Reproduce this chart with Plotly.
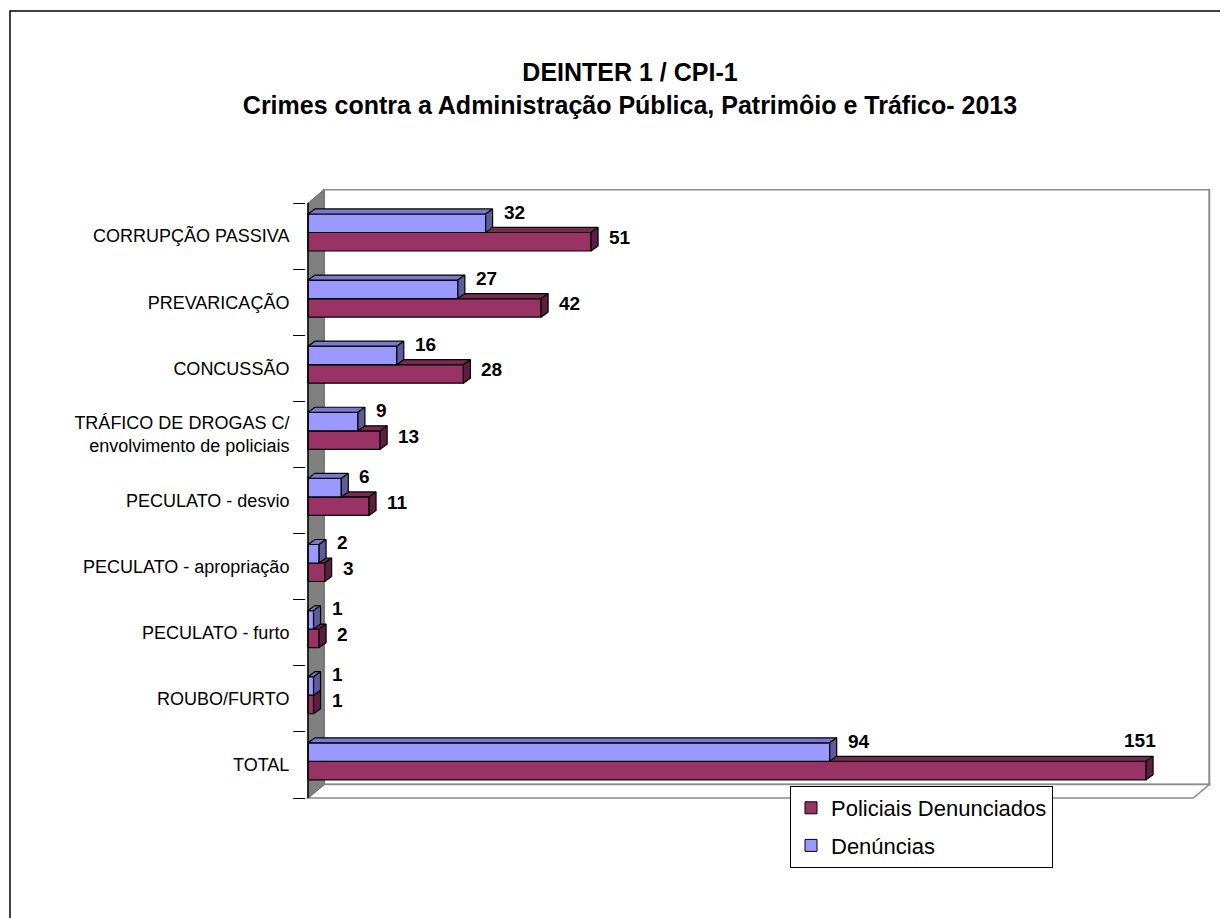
import plotly.graph_objects as go

# ---------------- data ----------------
categories = [
    "CORRUPÇÃO PASSIVA",
    "PREVARICAÇÃO",
    "CONCUSSÃO",
    "TRÁFICO DE DROGAS C/<br>envolvimento de policiais",
    "PECULATO - desvio",
    "PECULATO - apropriação",
    "PECULATO - furto",
    "ROUBO/FURTO",
    "TOTAL",
]
denuncias = [32, 27, 16, 9, 6, 2, 1, 1, 94]
policiais = [51, 42, 28, 13, 11, 3, 2, 1, 151]

series_names = ["Policiais Denunciados", "Denúncias"]

# ---------------- style / geometry ----------------
FONT = "Liberation Sans, Arial, sans-serif"
RED_FRONT, RED_TOP, RED_SIDE = "#993366", "#7a2952", "#5c1f3d"
BLUE_FRONT, BLUE_TOP, BLUE_SIDE = "#9999ff", "#7a7acc", "#5c5c99"

n = len(categories)
pos = [n - 1 - i for i in range(n)]          # top category -> highest y

FRAME_MAX = 159.5        # value-axis extent of the 3D box
BAR_W = 0.28             # bar thickness (category units)
BLUE_OFF, RED_OFF = 0.195, -0.085
DX, DY = 1.26, 0.076     # bar depth
WX, WY = 2.89, 0.204     # wall depth

XMIN, XMAX = -0.36, 162.88
YMIN, YMAX = -0.515, 8.713

W, H = 1220, 910         # page has an 8px body margin
ML, MR, MT, MB = 298, 16, 181, 119
PW, PH = W - ML - MR, H - MT - MB


def faces(values, offset):
    fx, fy, tx, ty, sx, sy = [], [], [], [], [], []
    for p, v in zip(pos, values):
        yc = p + offset
        y0, y1 = yc - BAR_W / 2, yc + BAR_W / 2
        fx += [0, v, v, 0, 0, None]
        fy += [y0, y0, y1, y1, y0, None]
        tx += [0, v, v + DX, DX, 0, None]
        ty += [y1, y1, y1 + DY, y1 + DY, y1, None]
        sx += [v, v + DX, v + DX, v, v, None]
        sy += [y0, y0 + DY, y1 + DY, y1, y0, None]
    return (fx, fy), (tx, ty), (sx, sy)


def poly(xy, color):
    return go.Scatter(
        x=xy[0], y=xy[1], mode="lines", fill="toself", fillcolor=color,
        line=dict(color="black", width=1.2), hoverinfo="skip", showlegend=False,
    )


fig = go.Figure()

# legend entries (bar icons)
fig.add_trace(go.Bar(x=[None], y=[None], orientation="h", name=series_names[0],
                     marker=dict(color=RED_FRONT, line=dict(color="black", width=1)),
                     legendgroup="a"))
fig.add_trace(go.Bar(x=[None], y=[None], orientation="h", name=series_names[1],
                     marker=dict(color=BLUE_FRONT, line=dict(color="black", width=1)),
                     legendgroup="b"))

rf, rt, rs = faces(policiais, RED_OFF)
bf, bt, bs = faces(denuncias, BLUE_OFF)
for xy, c in [(rf, RED_FRONT), (rt, RED_TOP), (rs, RED_SIDE),
              (bf, BLUE_FRONT), (bt, BLUE_TOP), (bs, BLUE_SIDE)]:
    fig.add_trace(poly(xy, c))

# dummy trace for the label axis
fig.add_trace(go.Scatter(x=[0], y=[0], yaxis="y2", mode="markers",
                         marker=dict(opacity=0), hoverinfo="skip", showlegend=False))

# ---------------- 3D frame (walls) ----------------
shapes = []
top_b, bot_b = pos[0] + 0.5, pos[-1] - 0.5
# back wall
shapes.append(dict(type="path", xref="x", yref="y", layer="below",
                   path=f"M{WX},{bot_b + WY} L{WX},{top_b + WY} L{FRAME_MAX + WX},{top_b + WY} "
                        f"L{FRAME_MAX + WX},{bot_b + WY} Z",
                   fillcolor="white", line=dict(color="#8c8c8c", width=2)))
# floor
shapes.append(dict(type="path", xref="x", yref="y", layer="below",
                   path=f"M0,{bot_b} L{FRAME_MAX},{bot_b} L{FRAME_MAX + WX},{bot_b + WY} "
                        f"L{WX},{bot_b + WY} Z",
                   fillcolor="white", line=dict(color="#8c8c8c", width=1.5)))
# left side wall
shapes.append(dict(type="path", xref="x", yref="y", layer="below",
                   path=f"M0,{bot_b} L{WX},{bot_b + WY} L{WX},{top_b + WY} L0,{top_b} Z",
                   fillcolor="#808080", line=dict(color="#6e6e6e", width=1)))
# front-left edge (category axis line)
shapes.append(dict(type="line", xref="x", yref="y", layer="above",
                   x0=0, x1=0, y0=bot_b, y1=top_b, line=dict(color="black", width=1.5)))
# outer chart border (page px 10,11 -> figure px 2,3)
shapes.append(dict(type="rect", xref="paper", yref="paper",
                   x0=(2 - ML) / PW, x1=1.2, y0=-0.5, y1=(MT + PH - 3) / PH,
                   line=dict(color="black", width=1.5), fillcolor="rgba(0,0,0,0)"))

# ---------------- data labels ----------------
annotations = []
lab_font = dict(family=FONT, size=19, color="black", weight="bold")
for vals, off, ysh in [(policiais, RED_OFF, 4), (denuncias, BLUE_OFF, 11)]:
    for p, v in zip(pos, vals):
        if v > 0.92 * FRAME_MAX:
            annotations.append(dict(x=v, y=p + off, xref="x", yref="y", text=str(v),
                                    showarrow=False, xanchor="right", xshift=12,
                                    yshift=30, font=lab_font))
        else:
            annotations.append(dict(x=v, y=p + off, xref="x", yref="y", text=str(v),
                                    showarrow=False, xanchor="left", xshift=16,
                                    yshift=ysh, font=lab_font))

fig.update_layout(
    width=W, height=H,
    margin=dict(l=ML, r=MR, t=MT, b=MB),
    paper_bgcolor="white", plot_bgcolor="rgba(0,0,0,0)",
    font=dict(family=FONT, color="black"),
    title=dict(
        text="DEINTER 1 / CPI-1<br>Crimes contra a Administração Pública, Patrimôio e Tráfico- 2013",
        x=(630 - 8) / W, xanchor="center", xref="container",
        y=1 - 73 / H, yanchor="top", yref="container",
        font=dict(family=FONT, size=25, color="black", weight="bold"),
    ),
    xaxis=dict(range=[XMIN, XMAX], visible=False, fixedrange=True),
    yaxis=dict(range=[YMIN, YMAX], tickvals=[p - 0.5 for p in pos] + [pos[0] + 0.5],
               showticklabels=False, ticks="outside", ticklen=12, tickcolor="black",
               tickwidth=1, showgrid=False, zeroline=False, showline=False),
    yaxis2=dict(range=[YMIN, YMAX], overlaying="y", side="left",
                tickvals=pos, ticktext=categories, ticks="outside", ticklen=12,
                tickcolor="rgba(0,0,0,0)", showgrid=False, zeroline=False, showline=False,
                tickfont=dict(family=FONT, size=18, color="black")),
    shapes=shapes,
    annotations=annotations,
    showlegend=True,
    legend=dict(x=(790 - 8 - ML) / PW, y=(MT + PH - (786 - 8)) / PH,
                xanchor="left", yanchor="top",
                bordercolor="black", borderwidth=1, bgcolor="white",
                font=dict(family=FONT, size=22, color="black"),
                tracegroupgap=6, traceorder="grouped"),
)

fig.write_html("out.html")
